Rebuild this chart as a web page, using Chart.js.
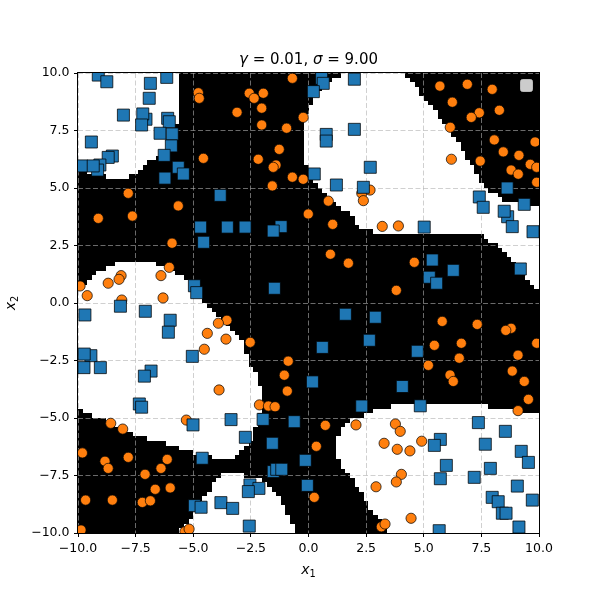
<!DOCTYPE html>
<html>
<head>
<meta charset="utf-8">
<script src="https://cdn.jsdelivr.net/npm/chart.js@4.4.0/dist/chart.umd.min.js"></script>
<style>
  html, body { margin: 0; padding: 0; background: #fff; }
</style>
</head>
<body>
<canvas id="chart" width="600" height="600"></canvas>
<script>
// ===== Tick values =====
const xTicks = [-10, -7.5, -5, -2.5, 0, 2.5, 5, 7.5, 10];
const yTicks = [-10, -7.5, -5, -2.5, 0, 2.5, 5, 7.5, 10];

// ===== Class 1 (blue squares) =====
const blueX = [-9.12, -8.75, -6.15, -6.86, -6.91, -8.03, -7.05, -7.19, -7.24, -6.11, -6.04, -6.44, -5.91, -9.42, -5.95, -6.26, -8.51, -8.69,
  -9.84, -9.05, -9.15, -9.34, -5.65, -5.43, -6.23, -3.83, -4.68, -3.52, 0.57, 0.64, 0.21, 1.99, 1.99, 0.77, 0.77, 2.68, 0.25, 1.21, 2.38,
  -2.75, -1.19, -1.53, 8.62, 7.41, 7.58, 9.36, 8.64, 8.49, 8.84, 9.74, 5.02, -4.55, -4.95, -4.85, -9.70, -8.16, -7.08, -6.00, -6.08,
  -9.44, -9.73, -9.74, -9.03, -6.83, -7.12, -5.04, -1.48, 1.60, 2.90, 2.64, 0.60, 0.17, 5.37, 6.28, 5.24, 5.56, 9.19, 4.72, 4.07,
  -7.34, -7.24, -5.01, -3.36, -4.61, -4.95, -4.66, -3.80, -3.29, 2.31, -1.97, -0.62, -2.74, -1.57, -0.14, -1.53, -1.38, -1.16,
  -2.54, -2.15, -2.61, -0.05, -2.57, 4.85, 7.37, 8.54, 5.72, 5.46, 7.67, 9.23, 9.54, 5.98, 7.89, 5.72, 7.19, 9.06, 7.97, 8.23,
  8.41, 8.57, 9.71, 9.13, 5.67];
const blueY = [9.91, 9.62, 9.81, 9.55, 8.90, 8.17, 7.99, 8.22, 7.74, 8.03, 7.88, 7.38, 7.35, 7.00, 6.83, 6.42, 6.39, 6.33,
  5.96, 6.00, 5.78, 5.96, 5.90, 5.61, 5.43, 4.68, 3.30, 3.30, 9.77, 9.55, 9.19, 9.73, 7.55, 7.33, 7.04, 5.90, 5.61, 5.13, 5.03,
  3.30, 3.32, 3.13, 5.00, 4.61, 4.16, 4.29, 3.75, 3.99, 3.32, 3.10, 3.30, 2.64, 0.75, 0.45, -0.52, -0.14, -0.36, -0.75, -1.27,
  -2.29, -2.22, -2.81, -2.81, -2.96, -3.18, -2.32, 0.64, -0.49, -0.62, -1.62, -1.93, -3.43, 1.87, 1.42, 1.12, 0.86, 1.48, -2.10, -3.63,
  -4.39, -4.53, -5.30, -5.07, -6.75, -8.81, -8.88, -8.68, -8.93, -4.48, -5.06, -5.16, -5.84, -6.10, -6.84, -7.33, -7.23, -7.23,
  -7.91, -8.06, -8.20, -7.93, -9.70, -4.47, -5.20, -5.58, -5.93, -6.19, -6.14, -6.45, -6.93, -7.06, -7.19, -7.64, -7.58, -7.96, -8.45, -8.64,
  -9.14, -9.14, -8.57, -9.74, -9.90];

// ===== Class 0 (orange circles) =====
const orangeX = [-4.78, -4.74, -3.10, -4.56, -7.82, -5.65, -9.12, -7.64, -0.70, -2.57, -1.96, -2.36, -2.03, -0.23, -2.03, -0.95, -1.27,
  -2.18, -1.41, -1.53, -0.70, -0.23, -1.57, 0.86, 2.31, 2.67, 2.38, -0.01, 1.05, 3.20, 5.70, 6.89, 7.97, 6.24, 7.41, 7.06, 8.28, 6.15,
  8.06, 9.83, 8.45, 9.13, 9.62, 9.90, 8.79, 9.10, 9.90, 6.20, 7.45, 3.90, -5.92, -6.04, -6.40, -8.13, -8.22, -8.69, -9.91, -9.60,
  -8.10, -6.31, -3.54, -3.91, -4.39, -3.58, -4.52, 0.95, 1.73, -2.53, -0.88, -1.05, 4.59, 3.81, 5.80, 7.32, 8.79, 8.56, 9.90, 5.46,
  6.63, 9.09, 6.54, 5.20, 6.14, 6.28, 8.84, 9.36, -3.88, -5.30, -8.58, -8.06, -9.81, -8.83, -8.69, -7.82, -6.13, -6.40, -7.09, -6.65,
  -6.00, -9.67, -8.51, -7.21, -6.86, -9.87, -5.36, -5.18, -0.92, -2.13, -1.74, -1.45, 0.73, 2.06, 0.34, 3.28, 0.25, 2.93, 3.16, 3.32,
  9.54, 9.09, 3.77, 3.98, 3.85, 4.40, 4.91, 4.03, 3.81, 4.45];
const orangeY = [9.14, 8.90, 8.29, 6.29, 4.77, 4.22, 3.68, 3.78, 9.77, 9.12, 9.12, 8.90, 8.47, 8.07, 7.74, 7.60, 6.68,
  6.25, 6.00, 5.90, 5.47, 5.38, 5.09, 4.43, 4.77, 4.91, 4.45, 3.87, 3.42, 3.33, 9.43, 9.51, 9.29, 8.73, 8.27, 8.07, 8.38, 7.64,
  7.09, 7.00, 6.57, 6.42, 6.03, 5.90, 5.78, 5.60, 5.25, 6.25, 6.17, 3.35, 2.60, 1.55, 1.19, 1.19, 1.03, 0.86, 0.74, 0.32,
  0.13, 0.22, -0.75, -0.88, -1.32, -1.57, -2.01, 2.12, 1.73, -1.71, -2.53, -3.14, 1.77, 0.55, -0.80, -0.93, -1.10, -1.19, -1.75, -1.84,
  -1.75, -2.27, -2.40, -2.71, -3.13, -3.41, -2.96, -3.41, -3.78, -5.09, -5.23, -5.48, -6.52, -6.88, -7.19, -6.71, -6.80, -7.19, -7.45, -8.10,
  -8.04, -8.57, -8.57, -8.67, -8.60, -9.87, -9.94, -9.83, -3.83, -4.43, -4.48, -4.51, -5.32, -5.30, -6.23, -6.10, -8.45, -7.99, -9.73, -9.61,
  -4.19, -4.68, -5.26, -5.58, -6.36, -6.43, -6.01, -7.45, -7.78, -9.36];

// ===== Decision regions (white = class 1), outlines =====
const regionTopLeft = [[-10, 10], [-5.50, 10], [-5.53, 9.26], [-5.57, 8.39], [-5.70, 7.74], [-5.92, 7.09], [-6.23, 6.65],
  [-6.53, 6.39], [-6.96, 6.09], [-7.31, 5.83], [-7.74, 5.48], [-8.70, 5.48], [-9.26, 5.61], [-10, 5.78]];
const regionTopRight = [[1.45, 10], [4.06, 10], [4.62, 9.57], [4.97, 8.96], [5.49, 8.39], [5.84, 7.83], [6.36, 7.22], [6.66, 6.65],
  [7.01, 6.09], [7.35, 5.48], [7.66, 5.04], [8.09, 4.78], [8.52, 4.48], [9.09, 4.35], [9.70, 4.30], [10, 4.26], [10, 0.48],
  [9.61, 0.91], [9.26, 1.35], [8.87, 1.78], [8.39, 2.22], [7.96, 2.65], [7.53, 2.96], [5.70, 2.91], [3.75, 2.91], [3.54, 3.0],
  [2.97, 3.04], [2.54, 3.17], [2.10, 3.39], [1.93, 3.74], [1.37, 4.17], [0.93, 4.61], [0.41, 5.04], [0.07, 5.48], [-0.15, 6.09],
  [-0.24, 6.65], [-0.28, 7.22], [-0.24, 7.83], [-0.02, 8.39], [0.20, 8.83], [0.50, 9.26], [1.06, 9.70]];
const regionMidLeft = [[-10, 0.43], [-9.41, 1.07], [-8.83, 1.51], [-8.10, 1.87], [-7.24, 1.87], [-6.52, 1.65], [-5.79, 1.36],
  [-5.36, 1.0], [-4.78, 0.42], [-4.35, -0.09], [-3.91, -0.52], [-3.33, -1.10], [-3.19, -1.30], [-2.97, -1.52], [-2.68, -2.26],
  [-2.54, -2.70], [-2.25, -3.13], [-2.10, -3.57], [-2.02, -4.22], [-2.10, -4.78], [-2.41, -5.83], [-2.68, -6.25], [-3.11, -6.68],
  [-3.41, -6.87], [-3.77, -6.83], [-4.35, -6.68], [-5.07, -6.47], [-5.79, -6.25], [-6.52, -6.03], [-7.24, -5.81], [-7.96, -5.52],
  [-8.70, -5.16], [-9.41, -4.87], [-10, -4.65]];
const regionBottomMid = [[-5.62, -10], [-5.36, -9.73], [-5.07, -9.29], [-4.78, -8.71], [-4.35, -8.20], [-4.06, -7.84],
  [-3.62, -7.40], [-3.19, -7.30], [-2.54, -7.57], [-1.97, -7.70], [-1.54, -8.13], [-1.11, -8.70], [-0.80, -9.30], [-0.67, -9.74],
  [-0.59, -10]];
const regionBottomRight = [[3.32, -4.51], [2.67, -4.80], [1.80, -5.09], [1.37, -5.52], [1.15, -6.10], [1.22, -6.68], [1.51, -7.12],
  [1.80, -7.55], [2.23, -8.13], [2.53, -8.71], [2.96, -9.29], [3.39, -9.73], [3.49, -10], [10, -10], [10, -4.80], [9.39, -4.73],
  [8.82, -4.58], [7.66, -4.48], [6.50, -4.36], [5.05, -4.36], [4.19, -4.43], [3.54, -4.51]];
const whiteRegions = [regionTopLeft, regionTopRight, regionMidLeft, regionBottomMid, regionBottomRight];

// ===== Raster of the decision surface =====
const GRID_N = 100;
const GRID_MIN = -10;
const GRID_STEP = 0.2;

function insidePolygon(px, py, poly) {
    let inside = false;
    for (let i = 0, j = poly.length - 1; i < poly.length; j = i++) {
        const [xi, yi] = poly[i];
        const [xj, yj] = poly[j];
        if ((yi > py) !== (yj > py) && px < (xj - xi) * (py - yi) / (yj - yi) + xi) inside = !inside;
    }
    return inside;
}

function isWhite(x, y) {
    return whiteRegions.some(r => insidePolygon(x, y, r));
}

const regionPlugin = {
    id: 'regions',
    beforeDraw(chart) {
        const { ctx, chartArea: a, scales: { x, y } } = chart;
        ctx.save();
        ctx.fillStyle = '#000';
        ctx.fillRect(a.left, a.top, a.right - a.left, a.bottom - a.top);
        ctx.fillStyle = '#fff';
        for (let j = 0; j < GRID_N; j++) {
            const cy = GRID_MIN + (j + 0.5) * GRID_STEP;
            let start = -1;
            for (let i = 0; i <= GRID_N; i++) {
                const on = i < GRID_N && isWhite(GRID_MIN + (i + 0.5) * GRID_STEP, cy);
                if (on && start < 0) start = i;
                if (!on && start >= 0) {
                    const x0 = Math.round(x.getPixelForValue(GRID_MIN + start * GRID_STEP));
                    const x1 = Math.round(x.getPixelForValue(GRID_MIN + i * GRID_STEP));
                    const y0 = Math.round(y.getPixelForValue(GRID_MIN + (j + 1) * GRID_STEP));
                    const y1 = Math.round(y.getPixelForValue(GRID_MIN + j * GRID_STEP));
                    ctx.fillRect(x0, y0, x1 - x0, y1 - y0);
                    start = -1;
                }
            }
        }
        ctx.restore();
    }
};

// ===== Frame, empty legend box, title and axis labels =====
function drawPieces(ctx, pieces, cx, baseline, size) {
    const fontOf = p => (p.italic ? 'italic ' : '') + (p.sub ? size * 0.7 : size) + 'px "DejaVu Sans"';
    let total = 0;
    pieces.forEach(p => { ctx.font = fontOf(p); total += ctx.measureText(p.t).width; });
    let xPos = cx - total / 2;
    pieces.forEach(p => {
        ctx.font = fontOf(p);
        ctx.fillText(p.t, xPos, baseline + (p.sub ? size * 0.22 : 0));
        xPos += ctx.measureText(p.t).width;
    });
}

const decorPlugin = {
    id: 'decor',
    afterDraw(chart) {
        const { ctx, chartArea: a } = chart;
        ctx.save();
        // khung trục
        ctx.strokeStyle = '#000';
        ctx.lineWidth = 1;
        ctx.strokeRect(a.left - 0.5, a.top - 0.5, a.right - a.left + 1, a.bottom - a.top + 1);
        // legend rỗng
        ctx.fillStyle = 'rgba(255,255,255,0.8)';
        ctx.strokeStyle = 'rgba(204,204,204,0.8)';
        ctx.beginPath();
        ctx.roundRect(a.right - 18.5, a.top + 6.5, 12, 12, 2);
        ctx.fill();
        ctx.stroke();
        // tiêu đề + nhãn trục
        ctx.fillStyle = '#000';
        ctx.textBaseline = 'alphabetic';
        ctx.textAlign = 'left';
        const cx = (a.left + a.right) / 2;
        drawPieces(ctx, [{ t: 'γ', italic: true }, { t: ' = 0.01, ' }, { t: 'σ', italic: true }, { t: ' = 9.00' }], cx, 64, 15);
        drawPieces(ctx, [{ t: 'x', italic: true }, { t: '1', sub: true }], cx, 574, 14);
        ctx.translate(15, (a.top + a.bottom) / 2);
        ctx.rotate(-Math.PI / 2);
        drawPieces(ctx, [{ t: 'x', italic: true }, { t: '2', sub: true }], 0, 0, 14);
        ctx.restore();
    }
};

// ===== Trục =====
const fmtTick = v => (v < 0 ? '\u2212' : '') + Math.abs(v).toFixed(1);
const gridColor = 'rgba(176,176,176,0.6)';

function axis(ticks, fit) {
    return {
        type: 'linear',
        min: -10,
        max: 10,
        afterBuildTicks: s => { s.ticks = ticks.map(v => ({ value: v })); },
        afterFit: fit,
        ticks: {
            callback: fmtTick,
            color: '#000',
            padding: 4.5,
            autoSkip: false,
            maxRotation: 0,
            font: { family: 'DejaVu Sans', size: 12.5 }
        },
        grid: {
            color: gridColor,
            lineWidth: 1,
            drawTicks: true,
            tickLength: 4,
            tickColor: '#000',
            tickWidth: 1,
            tickBorderDash: []
        },
        border: { display: false, dash: [5, 2.5] }
    };
}

new Chart(document.getElementById('chart'), {
    type: 'scatter',
    data: {
        datasets: [
            {
                label: '1',
                data: blueX.map((x, i) => ({ x, y: blueY[i] })),
                pointStyle: 'rect',
                pointRadius: 8.5,
                backgroundColor: '#1f77b4',
                borderColor: 'rgba(0,0,0,0.75)',
                borderWidth: 1,
                clip: 0
            },
            {
                label: '0',
                data: orangeX.map((x, i) => ({ x, y: orangeY[i] })),
                pointStyle: 'circle',
                pointRadius: 5.1,
                backgroundColor: '#ff7f0e',
                borderColor: 'rgba(0,0,0,0.7)',
                borderWidth: 1,
                clip: 0
            }
        ]
    },
    options: {
        responsive: false,
        animation: false,
        devicePixelRatio: 1,
        layout: { padding: { top: 73, right: 61, left: 0, bottom: 0 } },
        plugins: { legend: { display: false }, tooltip: { enabled: false }, title: { display: false } },
        scales: {
            x: axis(xTicks, s => { s.height = 67; }),
            y: axis(yTicks, s => { s.width = 78; })
        }
    },
    plugins: [regionPlugin, decorPlugin]
});
</script>
</body>
</html>
